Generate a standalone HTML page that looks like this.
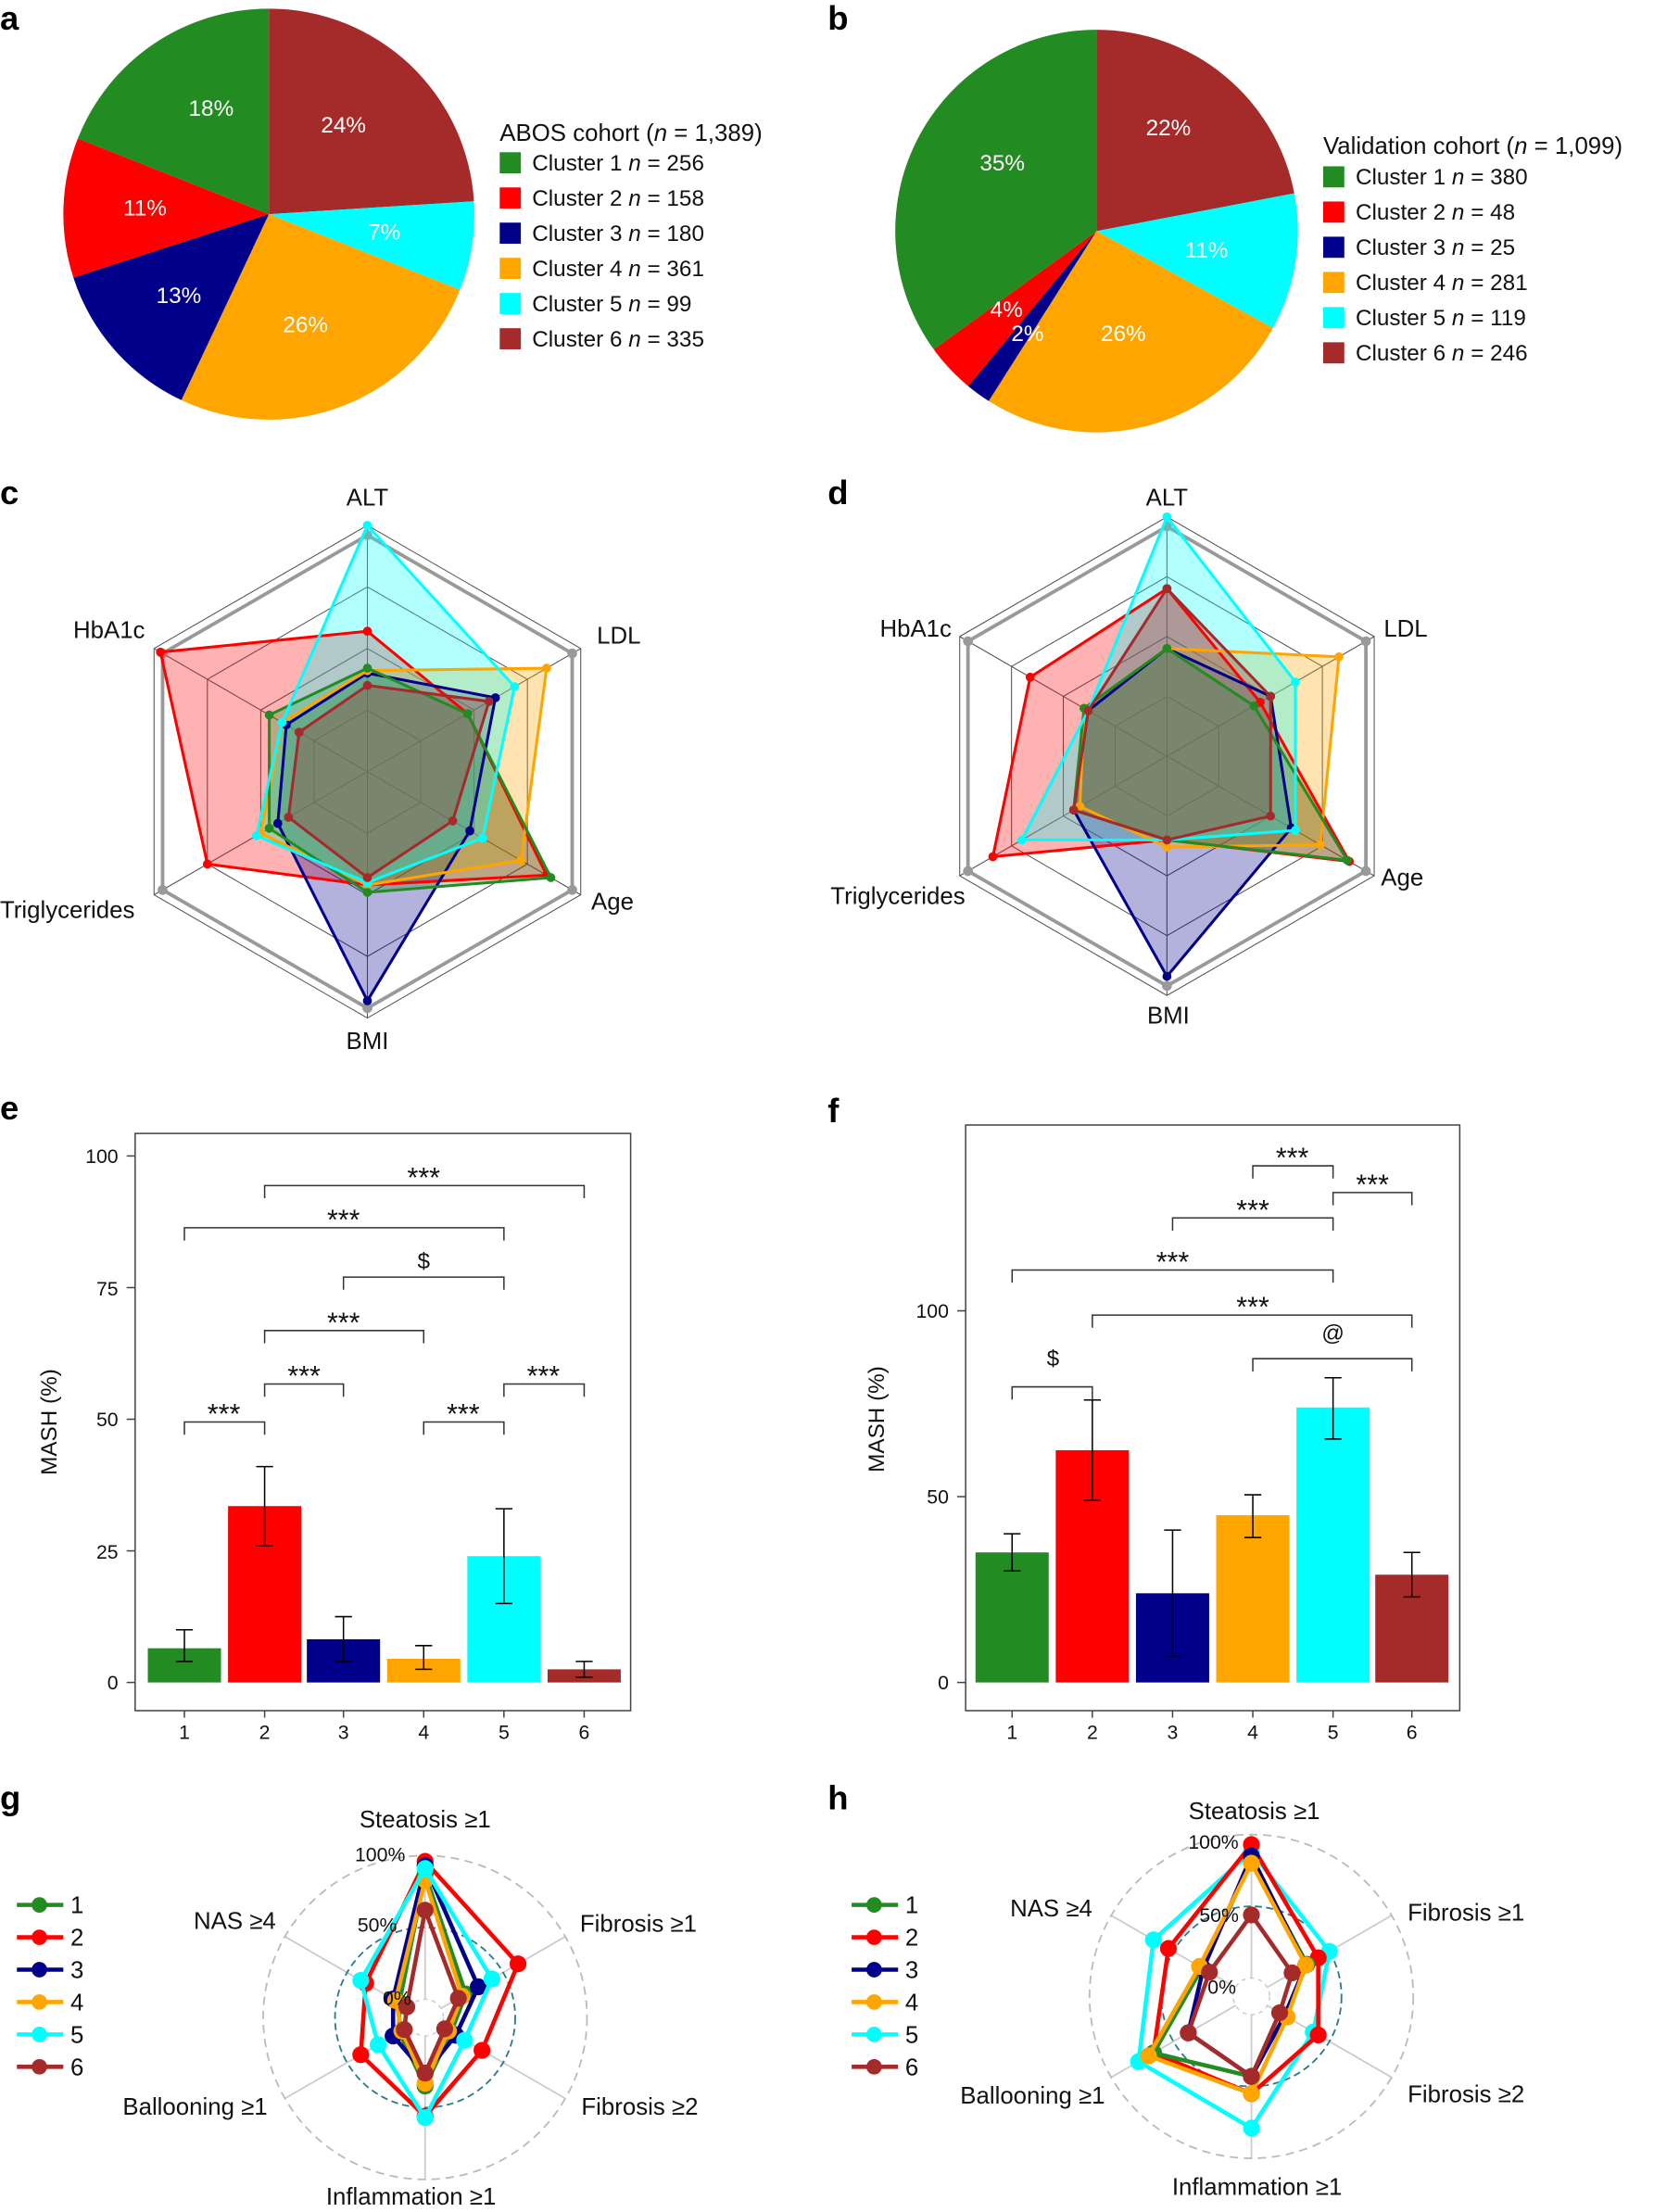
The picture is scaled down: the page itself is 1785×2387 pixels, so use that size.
<!DOCTYPE html>
<html><head><meta charset="utf-8"><style>
html,body{margin:0;padding:0;background:#fff;}
svg{display:block;font-family:"Liberation Sans",Arial,sans-serif;}
.pl{font-weight:bold;font-size:24px;}
.t{font-size:16px;fill:#111;}
.st{font-size:20px;fill:#111;}
.lab{font-size:17px;fill:#111;}
.w{fill:#fff;font-size:16px;}
.tk{font-size:14px;fill:#111;}
</style></head><body>
<svg id="s" width="1785" height="2387" viewBox="0 0 1175 1571" xmlns="http://www.w3.org/2000/svg">
<rect width="1175" height="1571" fill="#fff"/>
<g id="shapes"></g>
<text class="pl" x="0" y="21">a</text><text class="pl" x="588" y="21">b</text>
<text class="pl" x="0" y="358">c</text><text class="pl" x="588" y="358">d</text>
<text class="pl" x="0" y="795">e</text><text class="pl" x="588" y="797">f</text>
<text class="pl" x="0" y="1285">g</text><text class="pl" x="588" y="1285">h</text>
<text class="w" x="150" y="82" text-anchor="middle">18%</text>
<text class="w" x="244" y="94" text-anchor="middle">24%</text>
<text class="w" x="103" y="153" text-anchor="middle">11%</text>
<text class="w" x="273" y="170" text-anchor="middle">7%</text>
<text class="w" x="127" y="215" text-anchor="middle">13%</text>
<text class="w" x="217" y="236" text-anchor="middle">26%</text>
<text class="lab" x="355" y="100">ABOS cohort (<tspan font-style="italic">n</tspan> = 1,389)</text>
<g class="t">
<text x="378" y="121">Cluster 1 <tspan font-style="italic">n</tspan> = 256</text>
<text x="378" y="146">Cluster 2 <tspan font-style="italic">n</tspan> = 158</text>
<text x="378" y="171">Cluster 3 <tspan font-style="italic">n</tspan> = 180</text>
<text x="378" y="196">Cluster 4 <tspan font-style="italic">n</tspan> = 361</text>
<text x="378" y="221">Cluster 5 <tspan font-style="italic">n</tspan> = 99</text>
<text x="378" y="246">Cluster 6 <tspan font-style="italic">n</tspan> = 335</text>
</g>
<text class="w" x="712" y="121" text-anchor="middle">35%</text>
<text class="w" x="830" y="96" text-anchor="middle">22%</text>
<text class="w" x="857" y="183" text-anchor="middle">11%</text>
<text class="w" x="715" y="225" text-anchor="middle">4%</text>
<text class="w" x="730" y="242" text-anchor="middle">2%</text>
<text class="w" x="798" y="242" text-anchor="middle">26%</text>
<text class="lab" x="940" y="109">Validation cohort (<tspan font-style="italic">n</tspan> = 1,099)</text>
<g class="t">
<text x="963" y="131">Cluster 1 <tspan font-style="italic">n</tspan> = 380</text>
<text x="963" y="156">Cluster 2 <tspan font-style="italic">n</tspan> = 48</text>
<text x="963" y="181">Cluster 3 <tspan font-style="italic">n</tspan> = 25</text>
<text x="963" y="206">Cluster 4 <tspan font-style="italic">n</tspan> = 281</text>
<text x="963" y="231">Cluster 5 <tspan font-style="italic">n</tspan> = 119</text>
<text x="963" y="256">Cluster 6 <tspan font-style="italic">n</tspan> = 246</text>
</g>
<g class="lab">
<text x="261" y="359" text-anchor="middle">ALT</text>
<text x="424" y="457">LDL</text>
<text x="420" y="646">Age</text>
<text x="261" y="745" text-anchor="middle">BMI</text>
<text x="0" y="652">Triglycerides</text>
<text x="103" y="453" text-anchor="end">HbA1c</text>
<text x="829" y="359" text-anchor="middle">ALT</text>
<text x="983" y="452">LDL</text>
<text x="981" y="629">Age</text>
<text x="830" y="727" text-anchor="middle">BMI</text>
<text x="590" y="642">Triglycerides</text>
<text x="676" y="452" text-anchor="end">HbA1c</text>
</g>
<g class="tk">
<text x="84" y="826" text-anchor="end">100</text><text x="84" y="920" text-anchor="end">75</text>
<text x="84" y="1013" text-anchor="end">50</text><text x="84" y="1107" text-anchor="end">25</text>
<text x="84" y="1200" text-anchor="end">0</text>
<text x="131" y="1235" text-anchor="middle">1</text><text x="188" y="1235" text-anchor="middle">2</text>
<text x="244" y="1235" text-anchor="middle">3</text><text x="301" y="1235" text-anchor="middle">4</text>
<text x="358" y="1235" text-anchor="middle">5</text><text x="415" y="1235" text-anchor="middle">6</text>
<text x="674" y="936" text-anchor="end">100</text><text x="674" y="1068" text-anchor="end">50</text>
<text x="674" y="1200" text-anchor="end">0</text>
<text x="719" y="1235" text-anchor="middle">1</text><text x="776" y="1235" text-anchor="middle">2</text>
<text x="833" y="1235" text-anchor="middle">3</text><text x="890" y="1235" text-anchor="middle">4</text>
<text x="947" y="1235" text-anchor="middle">5</text><text x="1003" y="1235" text-anchor="middle">6</text>
</g>
<text class="t" transform="translate(40,1010) rotate(-90)" text-anchor="middle">MASH (%)</text>
<text class="t" transform="translate(628,1008) rotate(-90)" text-anchor="middle">MASH (%)</text>
<g class="st" text-anchor="middle">
<text x="301" y="843">***</text><text x="244" y="873">***</text><text class="t" x="301" y="901">$</text>
<text x="244" y="946">***</text><text x="216" y="984">***</text><text x="159" y="1011">***</text>
<text x="329" y="1011">***</text><text x="386" y="984">***</text>
<text x="918" y="829">***</text><text x="975" y="848">***</text><text x="890" y="866">***</text>
<text x="833" y="903">***</text><text x="890" y="935">***</text><text class="t" x="748" y="970">$</text>
<text class="t" x="947" y="952">@</text>
</g>
<g class="lab">
<text x="302" y="1298" text-anchor="middle">Steatosis ≥1</text>
<text x="412" y="1372">Fibrosis ≥1</text>
<text x="413" y="1502">Fibrosis ≥2</text>
<text x="292" y="1566" text-anchor="middle">Inflammation ≥1</text>
<text x="190" y="1502" text-anchor="end">Ballooning ≥1</text>
<text x="196" y="1370" text-anchor="end">NAS ≥4</text>
<text x="891" y="1292" text-anchor="middle">Steatosis ≥1</text>
<text x="1000" y="1364">Fibrosis ≥1</text>
<text x="1000" y="1493">Fibrosis ≥2</text>
<text x="893" y="1559" text-anchor="middle">Inflammation ≥1</text>
<text x="785" y="1494" text-anchor="end">Ballooning ≥1</text>
<text x="776" y="1361" text-anchor="end">NAS ≥4</text>
</g>
<g class="tk" id="pct">
<text x="270" y="1322" text-anchor="middle">100%</text><text x="268" y="1372" text-anchor="middle">50%</text><text x="282" y="1424" text-anchor="middle">0%</text>
<text x="862" y="1313" text-anchor="middle">100%</text><text x="866" y="1365" text-anchor="middle">50%</text><text x="868" y="1416" text-anchor="middle">0%</text>
</g>
<g class="lab" id="leglab">
<text x="50" y="1359">1</text><text x="50" y="1382">2</text><text x="50" y="1405">3</text>
<text x="50" y="1428">4</text><text x="50" y="1451">5</text><text x="50" y="1474">6</text>
<text x="643" y="1359">1</text><text x="643" y="1382">2</text><text x="643" y="1405">3</text>
<text x="643" y="1428">4</text><text x="643" y="1451">5</text><text x="643" y="1474">6</text>
</g>
</svg>
<script>
var NS="http://www.w3.org/2000/svg",G=document.getElementById('shapes');
var C=['#228B22','#FF0000','#00008B','#FFA500','#00FFFF','#A52A2A'];
function el(t,a,p){var e=document.createElementNS(NS,t);for(var k in a)e.setAttribute(k,a[k]);(p||G).appendChild(e);return e;}
function pie(cx,cy,r,segs){var a=0;segs.forEach(function(s){var a2=a+s[0]*3.6;var r1=a*Math.PI/180,r2=a2*Math.PI/180;
var x1=cx+r*Math.sin(r1),y1=cy-r*Math.cos(r1),x2=cx+r*Math.sin(r2),y2=cy-r*Math.cos(r2);
el('path',{d:'M'+cx+','+cy+'L'+x1+','+y1+'A'+r+','+r+' 0 '+(a2-a>180?1:0)+' 1 '+x2+','+y2+'Z',fill:s[1]});a=a2;});}
pie(191,152,146,[[24,C[5]],[7,C[4]],[26,C[3]],[13,C[2]],[11,C[1]],[19,C[0]]]);
pie(779,164,143,[[22,C[5]],[11,C[4]],[26,C[3]],[2,C[2]],[4,C[1]],[35,C[0]]]);
[[355,115],[940,125]].forEach(function(p){for(var i=0;i<6;i++)el('rect',{x:p[0],y:p[1]+i*25-7,width:15,height:15,fill:C[i]});});
var ang=[90,30,-30,-90,-150,150];
function pt(cx,cy,r,i){var t=ang[i]*Math.PI/180;return [cx+r*Math.cos(t),cy-r*Math.sin(t)];}
function hexpts(cx,cy,r,vals){return vals.map(function(v,i){return pt(cx,cy,r*v,i).join(',');}).join(' ');}
function radar(cx,cy,R,data,order){
 [0.25,0.5,0.75,1].forEach(function(l){el('polygon',{points:hexpts(cx,cy,R,[l,l,l,l,l,l]),fill:'none',stroke:'#555','stroke-width':0.7});});
 for(var i=0;i<6;i++){var p=pt(cx,cy,R,i);el('line',{x1:cx,y1:cy,x2:p[0],y2:p[1],stroke:'#555','stroke-width':0.7});}
 el('polygon',{points:hexpts(cx,cy,R*0.96,[1,1,1,1,1,1]),fill:'none',stroke:'#999','stroke-width':2.5});
 for(var i=0;i<6;i++){var p=pt(cx,cy,R*0.96,i);el('circle',{cx:p[0],cy:p[1],r:3.5,fill:'#999'});}
 order.forEach(function(k){el('polygon',{points:hexpts(cx,cy,R,data[k]),fill:C[k],'fill-opacity':0.3,stroke:'none'});});
 order.forEach(function(k){el('polygon',{points:hexpts(cx,cy,R,data[k]),fill:'none',stroke:C[k],'stroke-width':2});
  data[k].forEach(function(v,i){var p=pt(cx,cy,R*v,i);el('circle',{cx:p[0],cy:p[1],r:3.2,fill:C[k]});});});
}
radar(261,548,175,[
 [0.42,0.47,0.86,0.49,0.46,0.46],
 [0.57,0.47,0.84,0.46,0.75,0.97],
 [0.40,0.60,0.48,0.93,0.42,0.38],
 [0.41,0.84,0.72,0.46,0.50,0.40],
 [1.0,0.69,0.54,0.45,0.52,0.40],
 [0.35,0.57,0.40,0.43,0.37,0.32]],[1,2,3,0,4,5]);
radar(829,537,170,[
 [0.45,0.42,0.87,0.35,0.45,0.40],
 [0.70,0.45,0.88,0.35,0.84,0.66],
 [0.45,0.50,0.60,0.92,0.45,0.38],
 [0.45,0.83,0.74,0.38,0.42,0.40],
 [1.0,0.62,0.62,0.35,0.70,0.38],
 [0.70,0.50,0.50,0.35,0.45,0.38]],[1,2,3,0,4,5]);
function bars(x0,x1,yt,yb,y0,pu,xs,vals,errs,ticks,br){
 el('rect',{x:x0,y:yt,width:x1-x0,height:yb-yt,fill:'none',stroke:'#444','stroke-width':1});
 ticks.forEach(function(t){var y=y0-t*pu;el('line',{x1:x0-6,y1:y,x2:x0,y2:y,stroke:'#444'});});
 xs.forEach(function(x,i){el('line',{x1:x,y1:yb,x2:x,y2:yb+5,stroke:'#444'});
  var h=vals[i]*pu;el('rect',{x:x-26,y:y0-h,width:52,height:h,fill:C[i]});
  var a=y0-errs[i][0]*pu,b=y0-errs[i][1]*pu;
  el('line',{x1:x,y1:a,x2:x,y2:b,stroke:'#000'});el('line',{x1:x-6,y1:a,x2:x+6,y2:a,stroke:'#000'});el('line',{x1:x-6,y1:b,x2:x+6,y2:b,stroke:'#000'});});
 br.forEach(function(b){el('polyline',{points:b[0]+','+(b[2]+9)+' '+b[0]+','+b[2]+' '+b[1]+','+b[2]+' '+b[1]+','+(b[2]+9),fill:'none',stroke:'#333','stroke-width':1});});
}
bars(96,448,805,1215,1195,3.74,[131,188,244,301,358,415],[6.5,33.5,8.2,4.5,24,2.5],
 [[4,10],[26,41],[4,12.5],[2.5,7],[15,33],[1,4]],[0,25,50,75,100],
 [[188,415,842],[131,358,872],[244,358,907],[188,301,945],[188,244,983],[131,188,1010],[301,358,1010],[358,415,983]]);
bars(686,1037,799,1215,1195,2.64,[719,776,833,890,947,1003],[35,62.5,24,45,74,29],
 [[30,40],[49,76],[7,41],[39,50.5],[65.5,82],[23,35]],[0,50,100],
 [[890,947,828],[947,1003,847],[833,947,865],[719,947,902],[776,1003,934],[719,776,985],[890,1003,965]]);
function polar(cx,cy,data,order){
 var R=115;
 for(var i=0;i<6;i++){var p=pt(cx,cy,R,i);el('line',{x1:cx,y1:cy,x2:p[0],y2:p[1],stroke:'#ccc','stroke-width':1.2});}
 el('circle',{cx:cx,cy:cy,r:R,fill:'none',stroke:'#bbb','stroke-width':1.2,'stroke-dasharray':'6,4'});
 el('circle',{cx:cx,cy:cy,r:64,fill:'none',stroke:'#2a7a8a','stroke-width':1.2,'stroke-dasharray':'5,3'});
 el('circle',{cx:cx,cy:cy,r:13,fill:'#fff',stroke:'#ccc','stroke-width':1,'stroke-dasharray':'3,3'});
 order.forEach(function(k){var pts=data[k].map(function(v,i){return pt(cx,cy,13+102*v/100,i).join(',');}).join(' ');
  el('polygon',{points:pts,fill:'none',stroke:C[k],'stroke-width':3});
  data[k].forEach(function(v,i){var p=pt(cx,cy,13+102*v/100,i);el('circle',{cx:p[0],cy:p[1],r:6,fill:C[k]});});});
}
polar(302,1433,[
 [87,20,8,35,8,8],[96,62,33,56,39,35],[93,30,12,26,13,13],[83,17,6,33,6,11],[91,41,19,57,25,39],[62,14,3,26,4,2]],[1,0,2,3,4,5]);
polar(889,1418,[
 [82,32,14,43,66,27],[93,41,41,55,66,54],[85,31,14,43,38,26],[80,31,16,55,70,29],[88,50,37,79,78,66],[44,20,10,43,38,21]],[4,1,0,2,3,5]);
[12,605].forEach(function(x){for(var i=0;i<6;i++){var y=1353+i*23;el('line',{x1:x,y1:y,x2:x+33,y2:y,stroke:C[i],'stroke-width':3});el('circle',{cx:x+16,cy:y,r:5.5,fill:C[i]});}});
var s=document.getElementById('s');s.insertBefore(G,s.children[1]);
</script>
</body></html>
